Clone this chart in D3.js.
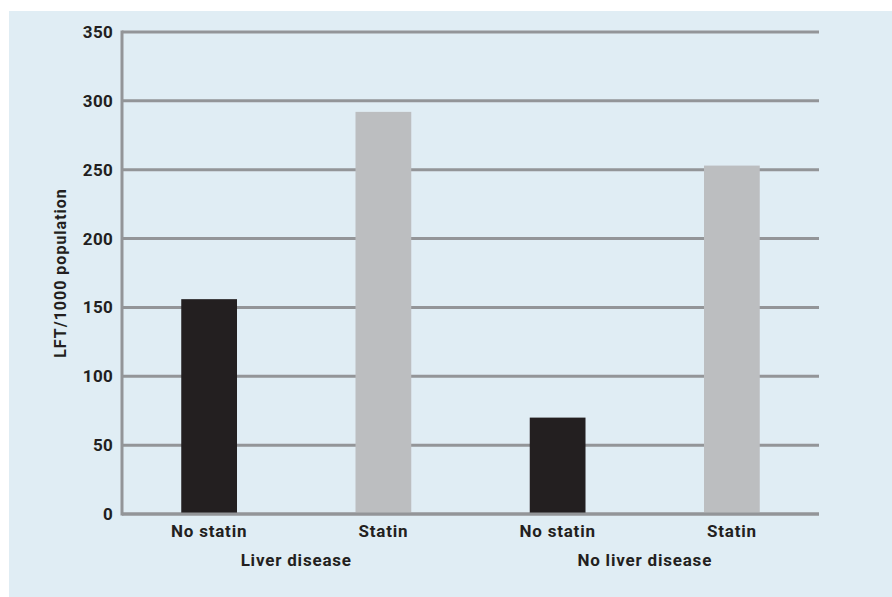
<!DOCTYPE html>
<html>
<head>
<meta charset="utf-8">
<script src="https://cdn.jsdelivr.net/npm/d3@7"></script>
<style>
  body { margin: 0; background: #fff; }
  text { font-family: Roboto, "DejaVu Sans", sans-serif; font-weight: bold; fill: #231f20; }
</style>
</head>
<body>
<svg></svg>
<script>
const width = 892;
const height = 597;

const groups = ["Liver disease", "No liver disease"];
const statinLabels = ["No statin", "Statin"];
const values = [156, 292, 70, 253];
const yTicks = [0, 50, 100, 150, 200, 250, 300, 350];
const barColors = ["#231f20", "#bcbec0"];

const margin = { left: 122, right: 73, top: 32, bottom: 83 };

const svg = d3.select("svg")
  .attr("width", width)
  .attr("height", height);

svg.append("rect")
  .attr("x", 9)
  .attr("y", 11)
  .attr("width", width - 9)
  .attr("height", height - 11)
  .attr("fill", "#e0edf4");

const bars = [];
groups.forEach((g, gi) => {
  statinLabels.forEach((s, si) => {
    bars.push({ key: g + "|" + s, group: g, label: s, idx: si, value: values[gi * 2 + si] });
  });
});

const x = d3.scaleBand()
  .domain(bars.map(d => d.key))
  .range([margin.left, width - margin.right])
  .paddingInner(0.68)
  .paddingOuter(0.34);

const y = d3.scaleLinear()
  .domain([0, 350])
  .range([height - margin.bottom, margin.top]);

// gridlines
svg.append("g")
  .selectAll("line")
  .data(yTicks)
  .join("line")
  .attr("x1", margin.left)
  .attr("x2", width - margin.right)
  .attr("y1", d => y(d))
  .attr("y2", d => y(d))
  .attr("stroke", "#939598")
  .attr("stroke-width", 3);

// bars
svg.append("g")
  .selectAll("rect")
  .data(bars)
  .join("rect")
  .attr("x", d => x(d.key))
  .attr("y", d => y(d.value))
  .attr("width", x.bandwidth())
  .attr("height", d => y(0) - y(d.value))
  .attr("fill", d => barColors[d.idx]);

// axis lines
svg.append("line")
  .attr("x1", margin.left)
  .attr("x2", margin.left)
  .attr("y1", y(350) - 1.5)
  .attr("y2", y(0) + 1.5)
  .attr("stroke", "#939598")
  .attr("stroke-width", 3);

svg.append("line")
  .attr("x1", margin.left)
  .attr("x2", width - margin.right)
  .attr("y1", y(0))
  .attr("y2", y(0))
  .attr("stroke", "#939598")
  .attr("stroke-width", 3);

// y tick labels
svg.append("g")
  .selectAll("text")
  .data(yTicks)
  .join("text")
  .attr("x", margin.left - 9)
  .attr("y", d => y(d))
  .attr("dy", "0.35em")
  .attr("text-anchor", "end")
  .attr("font-size", 17)
  .attr("letter-spacing", 0.3)
  .text(d => d);

svg.append("text")
  .attr("transform", `translate(66, ${(y(0) + y(350)) / 2}) rotate(-90)`)
  .attr("text-anchor", "middle")
  .attr("font-size", 16)
  .attr("letter-spacing", 1)
  .text("LFT/1000 population");

// x labels
svg.append("g")
  .selectAll("text")
  .data(bars)
  .join("text")
  .attr("x", d => x(d.key) + x.bandwidth() / 2)
  .attr("y", y(0) + 23)
  .attr("text-anchor", "middle")
  .attr("font-size", 17)
  .attr("letter-spacing", 0.8)
  .text(d => d.label);

svg.append("g")
  .selectAll("text")
  .data(groups)
  .join("text")
  .attr("x", g => {
    const ks = bars.filter(b => b.group === g).map(b => x(b.key) + x.bandwidth() / 2);
    return d3.mean(ks);
  })
  .attr("y", y(0) + 52)
  .attr("text-anchor", "middle")
  .attr("font-size", 17)
  .attr("letter-spacing", 0.8)
  .text(g => g);
</script>
</body>
</html>
